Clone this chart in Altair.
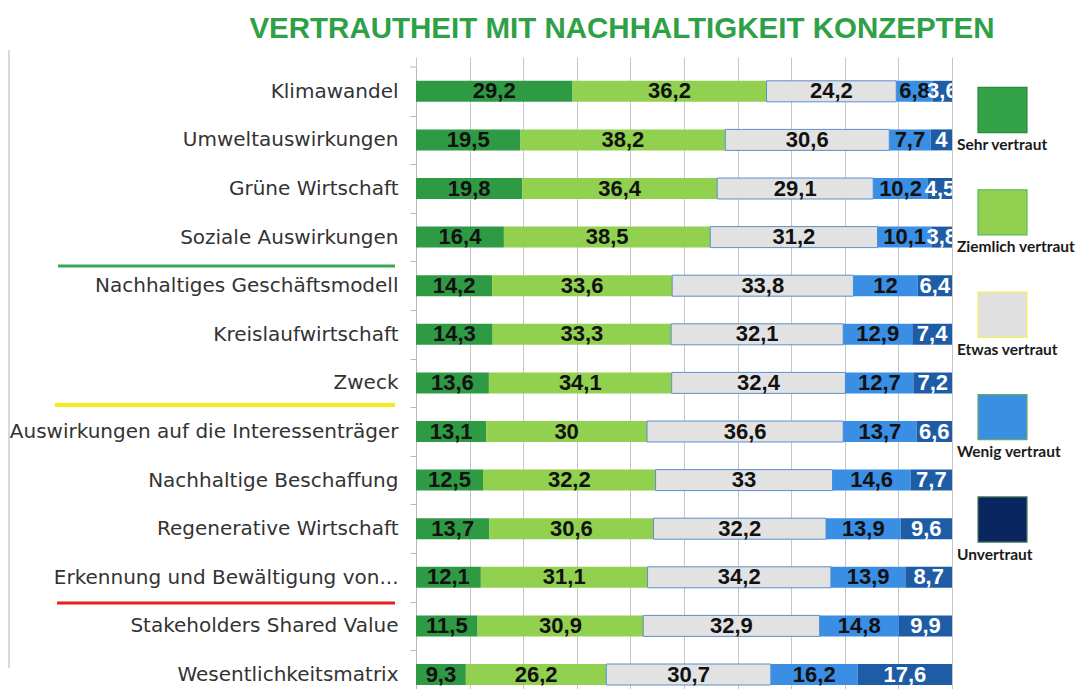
import altair as alt
import pandas as pd

# ---------------- data ----------------
title_text = "VERTRAUTHEIT MIT NACHHALTIGKEIT KONZEPTEN"

concepts = [
    "Klimawandel",
    "Umweltauswirkungen",
    "Grüne Wirtschaft",
    "Soziale Auswirkungen",
    "Nachhaltiges Geschäftsmodell",
    "Kreislaufwirtschaft",
    "Zweck",
    "Auswirkungen auf die Interessenträger",
    "Nachhaltige Beschaffung",
    "Regenerative Wirtschaft",
    "Erkennung und Bewältigung von...",
    "Stakeholders Shared Value",
    "Wesentlichkeitsmatrix",
]

levels = ["Sehr vertraut", "Ziemlich vertraut", "Etwas vertraut", "Wenig vertraut", "Unvertraut"]

sehr = [29.2, 19.5, 19.8, 16.4, 14.2, 14.3, 13.6, 13.1, 12.5, 13.7, 12.1, 11.5, 9.3]
ziemlich = [36.2, 38.2, 36.4, 38.5, 33.6, 33.3, 34.1, 30, 32.2, 30.6, 31.1, 30.9, 26.2]
etwas = [24.2, 30.6, 29.1, 31.2, 33.8, 32.1, 32.4, 36.6, 33, 32.2, 34.2, 32.9, 30.7]
wenig = [6.8, 7.7, 10.2, 10.1, 12, 12.9, 12.7, 13.7, 14.6, 13.9, 13.9, 14.8, 16.2]
unvertraut = [3.6, 4, 4.5, 3.8, 6.4, 7.4, 7.2, 6.6, 7.7, 9.6, 8.7, 9.9, 17.6]

grid_ticks = [0, 10, 20, 30, 40, 50, 60, 70, 80, 90, 100]

# ---------------- styles ----------------
BAR_COLORS = ["#2f9a44", "#92d050", "#e2e2e2", "#3a8ee3", "#1e5ca5"]
LEGEND_FILLS = ["#33a246", "#92d050", "#e0e0e0", "#3a8fe3", "#0b2560"]
LEGEND_STROKES = ["#2b8a3c", "#5cb85c", "#f4ee5a", "#6aa86a", "#3f7a55"]
TITLE_COLOR = "#2ea046"
SQUARE_PATH = "M-1,-0.92L1,-0.92L1,0.92L-1,0.92Z"

W = 536
H = 622
N = len(concepts)
STEP = 48.6

# ---------------- tables ----------------
series = [sehr, ziemlich, etwas, wenig, unvertraut]
rows = []
for i, c in enumerate(concepts):
    cum = 0.0
    for lvl, vals in zip(levels, series):
        v = vals[i]
        rows.append({
            "concept": c,
            "level": lvl,
            "value": v,
            "start": cum,
            "end": cum + v,
            "mid": cum + v / 2,
            "label": f"{v:g}".replace(".", ","),
        })
        cum += v
df = pd.DataFrame(rows)
leg_df = pd.DataFrame({"level": levels})
title_df = pd.DataFrame({"t": [title_text]})
one = pd.DataFrame({"a": [0]})

y_scale = alt.Scale(domain=concepts, range=[0, STEP * N], paddingInner=0.568, paddingOuter=0.284)
x_scale = alt.Scale(domain=[0, 100], nice=False, zero=True)

y_axis = alt.Axis(
    title=None,
    labelFont="DejaVu Sans",
    labelFontSize=20,
    labelColor="#333333",
    labelLimit=600,
    labelPadding=12,
    tickSize=6,
    tickColor="#b8b8b8",
    domainColor="#b8b8b8",
    tickOffset=STEP / 2,
    labelOffset=-STEP / 2,
    grid=False,
)
x_axis = alt.Axis(
    title=None, labels=False, ticks=False, domain=False, grid=True,
    values=grid_ticks, gridColor="#c6c6c6", gridWidth=1,
)

bars = alt.Chart(df).mark_bar(strokeWidth=1, clip=True).encode(
    x=alt.X("start:Q", scale=x_scale, axis=x_axis),
    x2="end:Q",
    y=alt.Y("concept:N", scale=y_scale, axis=y_axis),
    color=alt.Color("level:N", scale=alt.Scale(domain=levels, range=BAR_COLORS), legend=None),
    stroke=alt.condition(alt.datum.level == "Etwas vertraut", alt.value("#5b8fcc"), alt.value("transparent")),
)

labels = alt.Chart(df).mark_text(
    font="Liberation Sans", fontWeight="bold", fontSize=22, baseline="middle", align="center", clip=True
).encode(
    x=alt.X("mid:Q", scale=x_scale),
    y=alt.Y("concept:N", scale=y_scale),
    text="label:N",
    color=alt.condition(alt.datum.level == "Unvertraut", alt.value("#ffffff"), alt.value("#111111")),
)

leg_y = alt.Scale(type="point", domain=levels, range=[43, 452.5], padding=0)
squares = alt.Chart(leg_df).mark_point(
    shape=SQUARE_PATH, filled=True, size=2401, strokeWidth=1.2, opacity=1
).encode(
    x=alt.value(586.5),
    y=alt.Y("level:N", scale=leg_y, axis=None),
    fill=alt.Fill("level:N", scale=alt.Scale(domain=levels, range=LEGEND_FILLS), legend=None),
    stroke=alt.Stroke("level:N", scale=alt.Scale(domain=levels, range=LEGEND_STROKES), legend=None),
)
leg_text = alt.Chart(leg_df).mark_text(
    align="left", baseline="middle", dy=35, font="Lato", fontWeight="bold", fontSize=15.5, color="#1a1a1a"
).encode(
    x=alt.value(541),
    y=alt.Y("level:N", scale=leg_y, axis=None),
    text="level:N",
)

title_mark = alt.Chart(title_df).mark_text(
    font="Liberation Sans", fontWeight="bold", fontSize=29.5, color=TITLE_COLOR, align="center", baseline="middle"
).encode(x=alt.value(206), y=alt.value(-38), text="t:N")


def hline(x1, x2, y, color, w):
    return alt.Chart(one).mark_rule(color=color, strokeWidth=w).encode(
        x=alt.value(x1), x2=alt.value(x2), y=alt.value(y)
    )


green_line = hline(-358, -21, 199, "#3aa757", 3)
yellow_line = hline(-361, -21, 338, "#f2ea1c", 4)
red_line = hline(-359, -21, 536, "#ee1c1c", 3)
top_tick = hline(-6, 0, 0, "#b8b8b8", 1)
left_border = alt.Chart(one).mark_rule(color="#b4b4b4", strokeWidth=1).encode(
    x=alt.value(-407), y=alt.value(-17), y2=alt.value(601)
)

chart = alt.layer(
    alt.layer(bars, labels),
    alt.layer(squares, leg_text),
    title_mark, green_line, yellow_line, red_line, top_tick, left_border,
).resolve_scale(
    y="independent"
).properties(
    width=W,
    height=H,
    autosize=alt.AutoSizeParams(type="none"),
    padding={"left": 408, "top": 59, "right": 129, "bottom": 0},
).configure_view(strokeWidth=0)

chart.save("out.html", embed_options={"renderer": "svg", "actions": False})
